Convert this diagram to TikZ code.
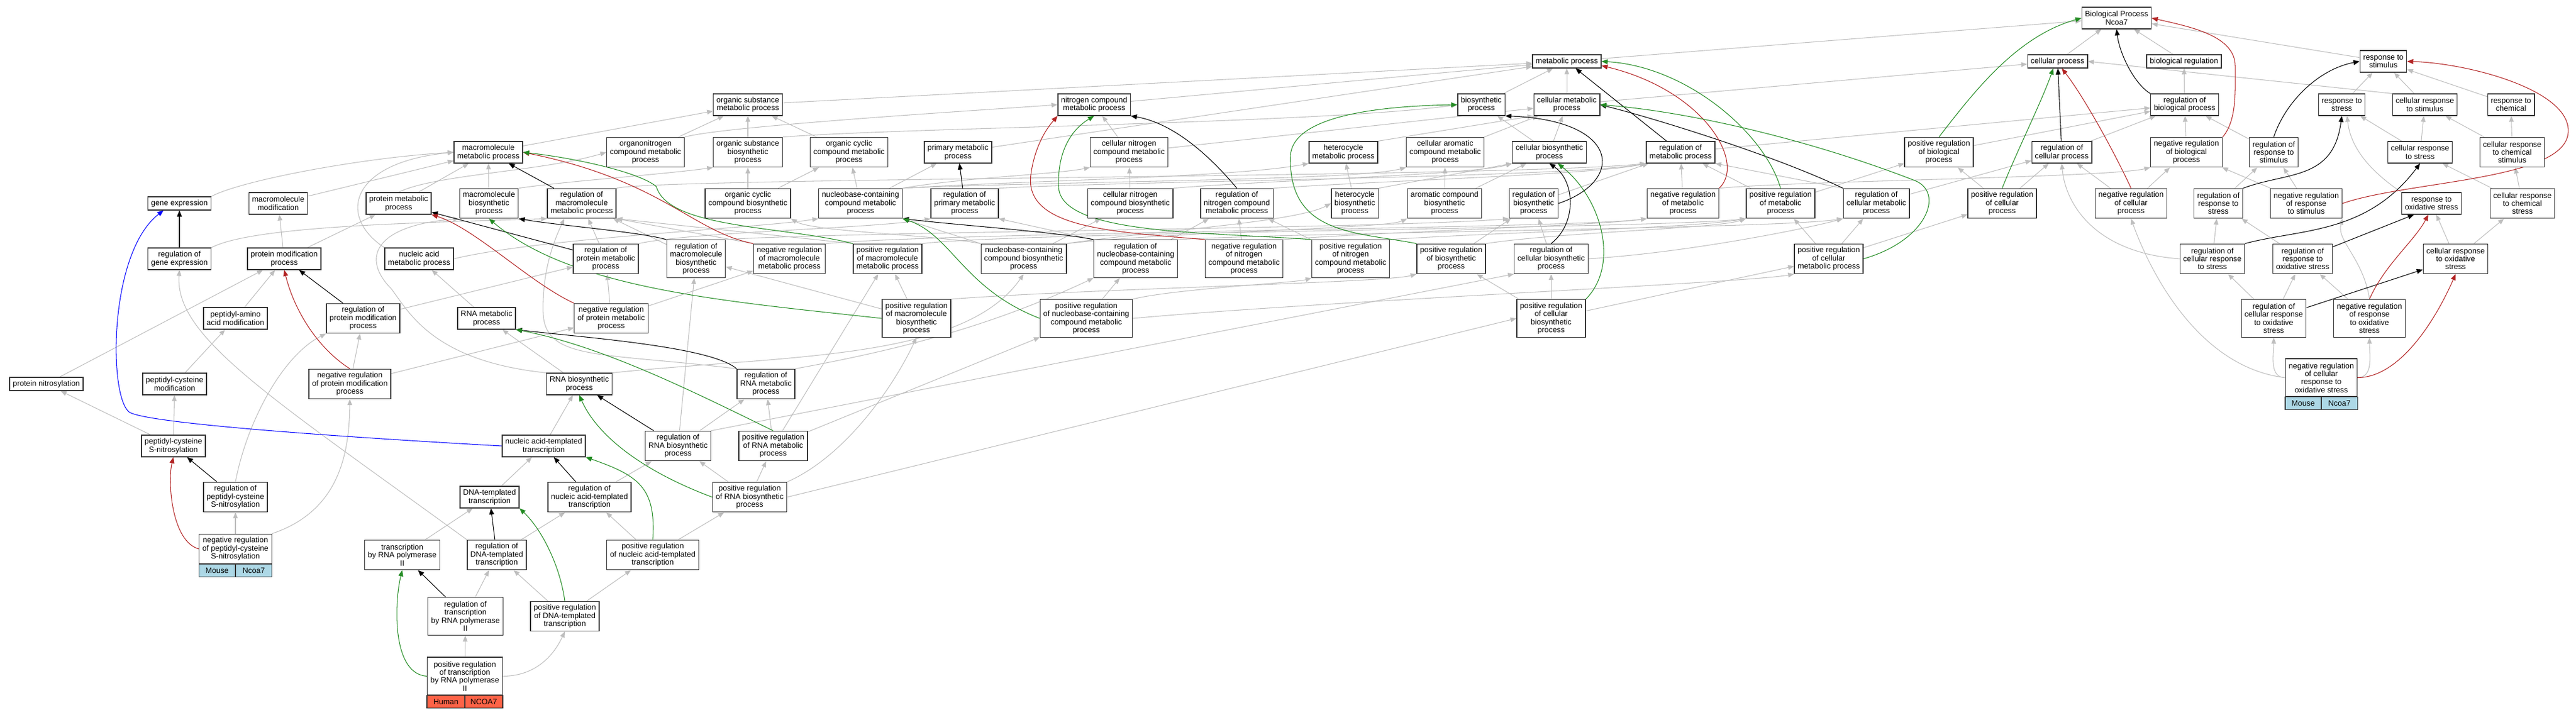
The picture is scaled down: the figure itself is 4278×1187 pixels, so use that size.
\documentclass[tikz,border=0pt]{standalone}
\usepackage{fontspec}
\setmainfont{Liberation Sans}
\usetikzlibrary{arrows.meta,calc}
\definecolor{isagray}{RGB}{190,190,190}
\definecolor{negred}{RGB}{178,34,34}
\definecolor{posgreen}{RGB}{34,139,34}
\definecolor{humanred}{RGB}{255,99,71}
\definecolor{mouseblue}{RGB}{173,216,230}
\pgfdeclarelayer{edges}
\pgfsetlayers{edges,main}
\tikzset{
  term/.style={draw=black!80, line width=0.75pt, fill=white, align=center,
    font=\fontsize{7.3}{7.6}\selectfont, inner xsep=3pt, inner ysep=0pt},
  oneline/.style={term, minimum height=12.5pt},
  twoline/.style={term, minimum height=20.4pt},
  threeline/.style={term, minimum height=28.1pt},
  fourline/.style={term, minimum height=35.7pt},
  cell/.style={draw=black!80, line width=0.75pt, font=\fontsize{7.3}{7.6}\selectfont,
    minimum height=11.9pt, inner sep=0pt, outer sep=0pt},
  isa/.style={draw=isagray, line width=0.6pt, -{Triangle[length=5.6pt,width=4.4pt]}},
  reg/.style={draw=black, line width=0.6pt, -{Triangle[length=5.8pt,width=4.6pt]}},
  negreg/.style={reg, draw=negred},
  posreg/.style={reg, draw=posgreen},
  partof/.style={reg, draw=blue}
}
\begin{document}
\begin{tikzpicture}[x=0.02cm, y=-0.02cm]
  \useasboundingbox (0,0) rectangle (4278,1187);

  % top rows
  \node[twoline] (bp) at (3515,30) {Biological Process\\Ncoa7};
  \node[oneline] (mp) at (2602,102) {metabolic process};
  \node[oneline] (cp) at (3417,102) {cellular process};
  \node[oneline] (breg) at (3627,102) {biological regulation};
  \node[twoline] (rstim) at (3958,102) {response to\\stimulus};

  \node[twoline] (osmp) at (1242,174) {organic substance\\metabolic process};
  \node[twoline] (ncmp) at (1817,174) {nitrogen compound\\metabolic process};
  \node[twoline] (bsp) at (2460,174) {biosynthetic\\process};
  \node[twoline] (cmp) at (2602,174) {cellular metabolic\\process};
  \node[twoline] (rbp) at (3628,174) {regulation of\\biological process};
  \node[twoline] (rstress) at (3889,174) {response to\\stress};
  \node[twoline] (crstim) at (4027,174) {cellular response\\to stimulus};
  \node[twoline] (rchem) at (4170,174) {response to\\chemical};

  \node[twoline] (mmp) at (811,253) {macromolecule\\metabolic process};
  \node[threeline] (oncmp) at (1072,253) {organonitrogen\\compound metabolic\\process};
  \node[threeline] (osbp) at (1242,253) {organic substance\\biosynthetic\\process};
  \node[threeline] (occmp) at (1410,253) {organic cyclic\\compound metabolic\\process};
  \node[twoline] (pmp) at (1591,253) {primary metabolic\\process};
  \node[threeline] (cncmp) at (1875,253) {cellular nitrogen\\compound metabolic\\process};
  \node[twoline] (hmp) at (2231,253) {heterocycle\\metabolic process};
  \node[threeline] (camp) at (2400,253) {cellular aromatic\\compound metabolic\\process};
  \node[twoline] (cbp) at (2573,253) {cellular biosynthetic\\process};
  \node[twoline] (rmp) at (2791,253) {regulation of\\metabolic process};
  \node[threeline] (prbp) at (3220,253) {positive regulation\\of biological\\process};
  \node[twoline] (rcp) at (3424,253) {regulation of\\cellular process};
  \node[threeline] (nrbp) at (3631,253) {negative regulation\\of biological\\process};
  \node[threeline] (rrstim) at (3776,253) {regulation of\\response to\\stimulus};
  \node[twoline] (crstress) at (4019,253) {cellular response\\to stress};
  \node[threeline] (crchem) at (4172,253) {cellular response\\to chemical\\stimulus};

  \node[oneline] (ge) at (298,338) {gene expression};
  \node[twoline] (mmod) at (462,338) {macromolecule\\modification};
  \node[twoline] (prmp) at (662,338) {protein metabolic\\process};
  \node[threeline] (mbp) at (812,338) {macromolecule\\biosynthetic\\process};
  \node[threeline] (rmmp) at (966,338) {regulation of\\macromolecule\\metabolic process};
  \node[threeline] (occbp) at (1242,338) {organic cyclic\\compound biosynthetic\\process};
  \node[threeline] (nbcmp) at (1429,338) {nucleobase-containing\\compound metabolic\\process};
  \node[threeline] (rpmp) at (1602,338) {regulation of\\primary metabolic\\process};
  \node[threeline] (cncbp) at (1877,338) {cellular nitrogen\\compound biosynthetic\\process};
  \node[threeline] (rncmp) at (2054,338) {regulation of\\nitrogen compound\\metabolic process};
  \node[threeline] (hbp) at (2250,338) {heterocycle\\biosynthetic\\process};
  \node[threeline] (acbp) at (2399,338) {aromatic compound\\biosynthetic\\process};
  \node[threeline] (rbsp) at (2547,338) {regulation of\\biosynthetic\\process};
  \node[threeline] (nrmp) at (2795,338) {negative regulation\\of metabolic\\process};
  \node[threeline] (posmp) at (2957,338) {positive regulation\\of metabolic\\process};
  \node[threeline] (rcmp) at (3116,338) {regulation of\\cellular metabolic\\process};
  \node[threeline] (prcp) at (3325,338) {positive regulation\\of cellular\\process};
  \node[threeline] (nrcp) at (3539,338) {negative regulation\\of cellular\\process};
  \node[threeline] (rrstress) at (3684,338) {regulation of\\response to\\stress};
  \node[threeline] (nrrstim) at (3830,338) {negative regulation\\of response\\to stimulus};
  \node[twoline] (rox) at (4038,338) {response to\\oxidative stress};
  \node[threeline] (crcs) at (4189,338) {cellular response\\to chemical\\stress};

  \node[twoline] (rge) at (298,430) {regulation of\\gene expression};
  \node[twoline] (pmod) at (472,430) {protein modification\\process};
  \node[twoline] (namp) at (696,430) {nucleic acid\\metabolic process};
  \node[threeline] (rprmp) at (1006,430) {regulation of\\protein metabolic\\process};
  \node[fourline] (rmbp) at (1156,430) {regulation of\\macromolecule\\biosynthetic\\process};
  \node[threeline] (nrmmp) at (1311,430) {negative regulation\\of macromolecule\\metabolic process};
  \node[threeline] (prmmp) at (1474,430) {positive regulation\\of macromolecule\\metabolic process};
  \node[threeline] (nbcbp) at (1700,430) {nucleobase-containing\\compound biosynthetic\\process};
  \node[fourline] (rnbcmp) at (1886,430) {regulation of\\nucleobase-containing\\compound metabolic\\process};
  \node[fourline] (nrncmp) at (2066,430) {negative regulation\\of nitrogen\\compound metabolic\\process};
  \node[fourline] (prncmp) at (2243,430) {positive regulation\\of nitrogen\\compound metabolic\\process};
  \node[threeline] (prbsp) at (2410,430) {positive regulation\\of biosynthetic\\process};
  \node[threeline] (rcbp) at (2576,430) {regulation of\\cellular biosynthetic\\process};
  \node[threeline] (prcmp) at (3037,430) {positive regulation\\of cellular\\metabolic process};
  \node[threeline] (rcrstress) at (3674,430) {regulation of\\cellular response\\to stress};
  \node[threeline] (rrox) at (3824,430) {regulation of\\response to\\oxidative stress};
  \node[threeline] (crox) at (4078,430) {cellular response\\to oxidative\\stress};

  \node[twoline] (paam) at (391,529) {peptidyl-amino\\acid modification};
  \node[threeline] (rpmod) at (603,529) {regulation of\\protein modification\\process};
  \node[twoline] (rnamp) at (808,529) {RNA metabolic\\process};
  \node[threeline] (nrprmp) at (1015,529) {negative regulation\\of protein metabolic\\process};
  \node[fourline] (prmbp) at (1522,529) {positive regulation\\of macromolecule\\biosynthetic\\process};
  \node[fourline] (prnbcmp) at (1804,529) {positive regulation\\of nucleobase-containing\\compound metabolic\\process};
  \node[fourline] (prcbp) at (2576,529) {positive regulation\\of cellular\\biosynthetic\\process};
  \node[fourline] (rcrox) at (3776,529) {regulation of\\cellular response\\to oxidative\\stress};
  \node[fourline] (nrrox) at (3935,529) {negative regulation\\of response\\to oxidative\\stress};
  \node[fourline] (nrcrox) at (3855,627.5) {negative regulation\\of cellular\\response to\\oxidative stress};
  \path let \p1 = ($(nrcrox.south east)-(nrcrox.south west)$) in
    node[cell, fill=mouseblue, minimum width=0.5*\x1, anchor=north west] (nrcrox-sp) at (nrcrox.south west) {Mouse}
    node[cell, fill=mouseblue, minimum width=0.5*\x1, anchor=north east] (nrcrox-gn) at (nrcrox.south east) {Ncoa7};

  \node[oneline] (pnit) at (77,638) {protein nitrosylation};
  \node[twoline] (pcmod) at (290,638) {peptidyl-cysteine\\modification};
  \node[threeline] (nrpmod) at (581,638) {negative regulation\\of protein modification\\process};
  \node[twoline] (rnabp) at (962,638) {RNA biosynthetic\\process};
  \node[threeline] (rrnamp) at (1272,638) {regulation of\\RNA metabolic\\process};

  \node[twoline] (pcsn) at (288,741) {peptidyl-cysteine\\S-nitrosylation};
  \node[twoline] (natt) at (903,741) {nucleic acid-templated\\transcription};
  \node[threeline] (rrnabp) at (1126,741) {regulation of\\RNA biosynthetic\\process};
  \node[threeline] (prrnamp) at (1284,741) {positive regulation\\of RNA metabolic\\process};

  \node[threeline] (rpcsn) at (391,826) {regulation of\\peptidyl-cysteine\\S-nitrosylation};
  \node[twoline] (dtt) at (813,826) {DNA-templated\\transcription};
  \node[threeline] (rnatt) at (979,826) {regulation of\\nucleic acid-templated\\transcription};
  \node[threeline] (prrnabp) at (1245,826) {positive regulation\\of RNA biosynthetic\\process};

  \node[threeline] (nrpcsn) at (391,912) {negative regulation\\of peptidyl-cysteine\\S-nitrosylation};
  \path let \p1 = ($(nrpcsn.south east)-(nrpcsn.south west)$) in
    node[cell, fill=mouseblue, minimum width=0.5*\x1, anchor=north west] (nrpcsn-sp) at (nrpcsn.south west) {Mouse}
    node[cell, fill=mouseblue, minimum width=0.5*\x1, anchor=north east] (nrpcsn-gn) at (nrpcsn.south east) {Ncoa7};

  \node[threeline] (trp2) at (668,922) {transcription\\by RNA polymerase\\II};
  \node[threeline] (rdtt) at (825,922) {regulation of\\DNA-templated\\transcription};
  \node[threeline] (prnatt) at (1084,922) {positive regulation\\of nucleic acid-templated\\transcription};
  \node[fourline] (rtrp2) at (773,1024) {regulation of\\transcription\\by RNA polymerase\\II};
  \node[threeline] (prdtt) at (938,1024) {positive regulation\\of DNA-templated\\transcription};
  \node[fourline] (prtrp2) at (772,1123.5) {positive regulation\\of transcription\\by RNA polymerase\\II};
  \path let \p1 = ($(prtrp2.south east)-(prtrp2.south west)$) in
    node[cell, fill=humanred, minimum width=0.5*\x1, anchor=north west] (prtrp2-sp) at (prtrp2.south west) {Human}
    node[cell, fill=humanred, minimum width=0.5*\x1, anchor=north east] (prtrp2-gn) at (prtrp2.south east) {NCOA7};

  \begin{pgfonlayer}{edges}
  % is_a
  \draw[isa] (cp) -- (bp);
  \draw[isa] (breg) -- (bp);
  \draw[isa] (mp) -- (bp);
  \draw[isa] (rstim) -- (bp);
  \draw[isa] (rbp) -- (breg);
  \draw[isa] (cmp) -- (mp);
  \draw[isa] (cmp) -- (cp);
  \draw[isa] (osmp) -- (mp);
  \draw[isa] (ncmp) -- (mp);
  \draw[isa] (pmp) -- (mp);
  \draw[isa] (bsp) -- (mp);
  \draw[isa] (crstim.north west) -- (cp.east);
  \draw[isa] (rstress) -- (rstim);
  \draw[isa] (crstim) -- (rstim);
  \draw[isa] (rchem) -- (rstim);

  \draw[isa] (mmp) -- (osmp);
  \draw[isa] (oncmp) -- (osmp);
  \draw[isa] (oncmp.north east) .. controls (1200,210) and (1600,185) .. (ncmp.west);
  \draw[isa] (osbp) -- (osmp);
  \draw[isa] (osbp.north east) .. controls (1500,212) and (2200,205) .. (bsp.west);
  \draw[isa] (occmp) -- (osmp);
  \draw[isa] (cncmp) -- (ncmp);
  \draw[isa] (cncmp) -- (cmp);
  \draw[isa] (hmp.north east) -- (cmp.south west);
  \draw[isa] (camp) -- (cmp);
  \draw[isa] (cbp) -- (cmp);
  \draw[isa] (cbp) -- (bsp);
  \draw[isa] (rmp) -- (rbp);
  \draw[isa] (prbp) -- (rbp);
  \draw[isa] (nrbp) -- (rbp);
  \draw[isa] (rcp) -- (rbp);
  \draw[isa] (rrstim) -- (rbp);
  \draw[isa] (crstress) -- (rstress);
  \draw[isa] (crstress) -- (crstim);
  \draw[isa] (crchem) -- (rchem);
  \draw[isa] (crchem) -- (crstim);

  \draw[isa] (ge.north east) .. controls (400,300) and (600,262) .. (mmp.west);
  \draw[isa] (mmod) -- (mmp);
  \draw[isa] (prmp) -- (mmp);
  \draw[isa] (prmp.north) .. controls (720,290) and (900,285) .. (oncmp.west);
  \draw[isa] (mbp) -- (mmp);
  \draw[isa] (mbp.north east) .. controls (950,300) and (1100,290) .. (osbp.south west);
  \draw[isa] (rmmp.north east) .. controls (1100,295) and (2500,295) .. (rmp.south west);
  \draw[isa] (occbp) -- (occmp);
  \draw[isa] (occbp) -- (osbp);
  \draw[isa] (nbcmp) -- (occmp);
  \draw[isa] (nbcmp) -- (pmp);
  \draw[isa] (nbcmp.north east) .. controls (1600,295) and (1750,290) .. (cncmp.south west);
  \draw[isa] (nbcmp.north east) .. controls (1700,300) and (2050,295) .. (hmp.south west);
  \draw[isa] (nbcmp.north east) .. controls (1800,300) and (2250,300) .. (camp.south west);
  \draw[isa] (rpmp.north east) .. controls (1900,300) and (2600,295) .. (rmp.south west);
  \draw[isa] (cncbp) -- (cncmp);
  \draw[isa] (cncbp.north east) .. controls (2100,300) and (2450,290) .. (cbp.south west);
  \draw[isa] (rncmp.north east) .. controls (2300,300) and (2650,290) .. (rmp.south west);
  \draw[isa] (hbp) -- (hmp);
  \draw[isa] (hbp.north east) -- (cbp.south west);
  \draw[isa] (acbp) -- (camp);
  \draw[isa] (acbp) -- (cbp);
  \draw[isa] (rbsp) -- (rmp);
  \draw[isa] (nrmp) -- (rmp);
  \draw[isa] (nrmp.north east) .. controls (3000,300) and (3500,295) .. (nrbp.south west);
  \draw[isa] (posmp) -- (rmp);
  \draw[isa] (posmp) -- (prbp);
  \draw[isa] (rcmp.north west) -- (rmp.south east);
  \draw[isa] (rcmp) -- (rcp);
  \draw[isa] (prcp) -- (rcp);
  \draw[isa] (prcp) -- (prbp);
  \draw[isa] (nrcp) -- (rcp);
  \draw[isa] (nrcp) -- (nrbp);
  \draw[isa] (rrstress) -- (rrstim);
  \draw[isa] (nrrstim) -- (rrstim);
  \draw[isa] (nrrstim) -- (nrbp);
  \draw[isa] (rox.north west) .. controls (3960,300) and (3905,260) .. ([xshift=5pt]rstress.south);
  \draw[isa] (crcs) -- (crchem);
  \draw[isa] (crcs) -- (crstress);

  \draw[isa] (rge.north east) .. controls (420,375) and (700,370) .. (rmmp.south west);
  \draw[isa] (pmod) -- (prmp);
  \draw[isa] (pmod) -- (mmod);
  \draw[isa] (namp.north west) .. controls (560,360) and (580,270) .. (mmp.west);
  \draw[isa] (namp.east) .. controls (900,395) and (1250,380) .. (nbcmp.south west);
  \draw[isa] (rprmp) -- (rmmp);
  \draw[isa] (rprmp.north east) .. controls (1150,385) and (1450,380) .. (rpmp.south west);
  \draw[isa] (rmbp) -- (rmmp);
  \draw[isa] (rmbp.north east) .. controls (1400,385) and (2300,380) .. (rbsp.south west);
  \draw[isa] (nrmmp.north west) -- (rmmp.south east);
  \draw[isa] (nrmmp.north east) .. controls (1600,385) and (2600,380) .. (nrmp.south west);
  \draw[isa] (prmmp.north west) -- (rmmp.south east);
  \draw[isa] (prmmp.north east) .. controls (1700,385) and (2750,380) .. (posmp.south west);
  \draw[isa] (nbcbp.north west) -- (nbcmp.south east);
  \draw[isa] (nbcbp) -- (cncbp);
  \draw[isa] (nbcbp.north west) .. controls (1550,390) and (1350,385) .. (occbp.south east);
  \draw[isa] (nbcbp.north east) .. controls (1900,385) and (2150,370) .. (hbp.west);
  \draw[isa] (nbcbp.north east) .. controls (1950,385) and (2300,380) .. (acbp.south west);
  \draw[isa] (rnbcmp) -- (rncmp);
  \draw[isa] (rnbcmp.north west) -- (rpmp.south east);
  \draw[isa] (rnbcmp.north east) .. controls (2200,385) and (2950,380) .. (rcmp.south west);
  \draw[isa] (nrncmp) -- (rncmp);
  \draw[isa] (nrncmp.north east) .. controls (2300,385) and (2650,375) .. (nrmp.south west);
  \draw[isa] (prncmp) -- (rncmp);
  \draw[isa] (prncmp.north east) .. controls (2500,385) and (2800,380) .. (posmp.south west);
  \draw[isa] (prbsp) -- (rbsp);
  \draw[isa] (prbsp.north east) .. controls (2600,385) and (2850,380) .. (posmp.south west);
  \draw[isa] (rcbp) -- (rbsp);
  \draw[isa] (rcbp.east) .. controls (2800,420) and (3000,380) .. (rcmp.south west);
  \draw[isa] (prcmp) -- (rcmp);
  \draw[isa] (prcmp) -- (posmp);
  \draw[isa] (prcmp) -- (prcp);
  \draw[isa] (rcrstress) -- (rrstress);
  \draw[isa] (rcrstress.west) .. controls (3480,420) and (3430,340) .. (rcp.south);
  \draw[isa] (rrox) -- (rrstress);
  \draw[isa] (crox) -- (rox);
  \draw[isa] (crox) -- (crcs);

  \draw[isa] (paam) -- (pmod);
  \draw[isa] (rpmod) -- (rprmp);
  \draw[isa] (rnamp) -- (namp);
  \draw[isa] (nrprmp) -- (rprmp);
  \draw[isa] (nrprmp) -- (nrmmp);
  \draw[isa] (prmbp) -- (rmbp);
  \draw[isa] (prmbp) -- (prmmp);
  \draw[isa] (prmbp.north east) .. controls (1800,480) and (2300,470) .. (prbsp.south west);
  \draw[isa] (prnbcmp) -- (rnbcmp);
  \draw[isa] (prnbcmp.north east) .. controls (1950,480) and (2150,470) .. (prncmp.south west);
  \draw[isa] (prnbcmp.east) .. controls (2200,500) and (2900,470) .. (prcmp.south west);
  \draw[isa] (prcbp) -- (rcbp);
  \draw[isa] (prcbp) -- (prcmp);
  \draw[isa] (prcbp) -- (prbsp);
  \draw[isa] (rcrox) -- (rcrstress);
  \draw[isa] (rcrox) -- (rrox);
  \draw[isa] (nrrox) -- (rrox);
  \draw[isa] (nrrox.north) .. controls (3925,430) and (3880,400) .. (nrrstim.south east);
  \draw[isa] (nrcrox.west) to[out=180,in=-90] (rcrox.south);
  \draw[isa] (nrcrox.east) to[out=0,in=-90] (nrrox.south);
  \draw[isa] (nrcrox.west) .. controls (3650,610) and (3570,450) .. (nrcp.south);

  \draw[isa] (pnit) -- (pmod);
  \draw[isa] (pcmod) -- (paam);
  \draw[isa] (nrpmod) -- (rpmod);
  \draw[isa] (nrpmod) -- (nrprmp);
  \draw[isa] (rnabp) -- (rnamp);
  \draw[isa] (rnabp.north west) .. controls (720,600) and (680,520) .. (650,480) .. controls (600,430) and (620,375) .. (mbp.south west);
  \draw[isa] (rnabp.north east) .. controls (1300,590) and (1600,600) .. (nbcbp.south);
  \draw[isa] (rrnamp.north east) .. controls (1500,580) and (1650,540) .. (rnbcmp.south west);
  \draw[isa] (rrnamp.north west) .. controls (1000,585) and (905,600) .. (902,520) .. controls (900,450) and (920,400) .. ($(rmmp.south west)!0.5!(rmmp.south)$);

  \draw[isa] (pcsn) -- (pcmod);
  \draw[isa] (pcsn) -- (pnit);
  \draw[isa] (natt) -- (rnabp);
  \draw[isa] (rrnabp) -- (rrnamp);
  \draw[isa] (rrnabp) -- (rmbp);
  \draw[isa] (rrnabp.north east) -- (rcbp.south west);
  \draw[isa] (prrnamp) -- (rrnamp);
  \draw[isa] (prrnamp) -- (prmmp);
  \draw[isa] (prrnamp) -- (prnbcmp);

  \draw[isa] (rpcsn.north) .. controls (410,700) and (470,590) .. (rpmod.south west);
  \draw[isa] (dtt) -- (natt);
  \draw[isa] (rnatt) -- (rrnabp);
  \draw[isa] (prrnabp) -- (rrnabp);
  \draw[isa] (prrnabp) -- (prrnamp);
  \draw[isa] (prrnabp.north east) .. controls (1400,760) and (1480,650) .. (prmbp.south);
  \draw[isa] (prrnabp.east) -- (prcbp.west);
  \draw[isa] (nrpcsn) -- (rpcsn);
  \draw[isa] (nrpcsn.north east) .. controls (560,850) and (580,760) .. (nrpmod.south);

  \draw[isa] (trp2) -- (dtt);
  \draw[isa] (rdtt) -- (rnatt);
  \draw[isa] (rdtt.north west) .. controls (450,660) and (290,560) .. (rge.south);
  \draw[isa] (prnatt) -- (rnatt);
  \draw[isa] (prnatt) -- (prrnabp);
  \draw[isa] (rtrp2) -- (rdtt);
  \draw[isa] (prdtt) -- (rdtt);
  \draw[isa] (prdtt) -- (prnatt);
  \draw[isa] (prtrp2) -- (rtrp2);
  \draw[isa] (prtrp2.east) to[out=0,in=-115] (prdtt.south);

  % regulates
  \draw[reg] (rge) -- (ge);
  \draw[reg] (rpmod) -- (pmod);
  \draw[reg] (rpcsn) -- (pcsn);
  \draw[reg] (rprmp) -- (prmp);
  \draw[reg] (rmmp) -- (mmp);
  \draw[reg] (rmbp.north west) .. controls (1060,385) and (930,375) .. (mbp.south east);
  \draw[reg] (rpmp) -- (pmp);
  \draw[reg] (rncmp.north) .. controls (2010,260) and (1950,205) .. (ncmp.south east);
  \draw[reg] (rnbcmp.north west) .. controls (1750,385) and (1600,375) .. (nbcmp.south east);
  \draw[reg] (rrnamp.north west) .. controls (1180,575) and (960,560) .. (rnamp.south east);
  \draw[reg] (rrnabp) -- (rnabp);
  \draw[reg] (rnatt) -- (natt);
  \draw[reg] (rdtt) -- (dtt);
  \draw[reg] (rtrp2) -- (trp2);
  \draw[reg] (rbsp.east) .. controls (2700,300) and (2690,200) .. (bsp.south east);
  \draw[reg] (rcbp.north) .. controls (2620,370) and (2615,300) .. (cbp.south);
  \draw[reg] (rmp) -- (mp);
  \draw[reg] (rcmp.north west) .. controls (2950,260) and (2760,200) .. (cmp.east);
  \draw[reg] (rbp.north west) .. controls (3545,140) and (3520,90) .. (bp.south);
  \draw[reg] (rcp) -- (cp);
  \draw[reg] (rrstim.north) .. controls (3795,170) and (3850,115) .. (rstim.west);
  \draw[reg] (rrstress.north east) .. controls (3800,285) and (3875,300) .. (rstress.south);
  \draw[reg] (rcrstress.north east) .. controls (3820,380) and (3930,390) .. (crstress.south);
  \draw[reg] (rrox) -- ([xshift=12pt]rox.south west);
  \draw[reg] (rcrox) -- (crox);

  % negatively regulates
  \draw[negreg] (nrpmod.north) .. controls (530,580) and (490,520) .. (pmod.south);
  \draw[negreg] (nrpcsn.west) .. controls (285,900) and (278,800) .. (pcsn.south);
  \draw[negreg] (nrprmp.north west) .. controls (880,470) and (790,380) .. (prmp.south east);
  \draw[negreg] (nrmmp.north west) .. controls (1150,385) and (1100,300) .. (mmp.east);
  \draw[negreg] (nrncmp.north west) .. controls (1850,385) and (1700,380) .. (1712,290) .. controls (1720,230) and (1750,200) .. (ncmp.south west);
  \draw[negreg] (nrmp.north east) .. controls (2900,270) and (2830,150) .. ([yshift=-4pt]mp.east);
  \draw[negreg] (nrcp.north) .. controls (3510,250) and (3460,160) .. ([xshift=4pt]cp.south);
  \draw[negreg] (nrbp.north east) .. controls (3715,200) and (3712,150) .. (3712,110) .. controls (3712,60) and (3640,45) .. (bp.east);
  \draw[negreg] (nrrstim.east) .. controls (4000,300) and (4260,300) .. (4265,220) .. controls (4270,150) and (4100,105) .. (rstim.east);
  \draw[negreg] (nrrox.north) .. controls (3960,440) and (4010,400) .. ([xshift=-3pt]rox.south);
  \draw[negreg] (nrcrox.east) .. controls (3990,627) and (4050,520) .. (crox.south);

  % positively regulates
  \draw[posreg] (prtrp2.west) .. controls (650,1120) and (655,1000) .. (trp2.south);
  \draw[posreg] (prdtt.north) .. controls (930,940) and (900,880) .. (dtt.south east);
  \draw[posreg] (prnatt.north) .. controls (1090,810) and (1060,790) .. (natt.south east);
  \draw[posreg] (prrnabp.west) .. controls (1060,780) and (990,720) .. (rnabp.south);
  \draw[posreg] (prrnamp.north) .. controls (1150,650) and (1000,575) .. (rnamp.south east);
  \draw[posreg] (prmbp.west) .. controls (1200,500) and (950,480) .. (mbp.south);
  \draw[posreg] (prmmp.north west) .. controls (1300,375) and (1110,380) .. (1090,310) .. controls (1060,285) and (950,262) .. (mmp.east);
  \draw[posreg] (prnbcmp.west) .. controls (1600,480) and (1580,390) .. (nbcmp.south east);
  \draw[posreg] (prncmp.north west) .. controls (2000,385) and (1760,390) .. (1758,310) .. controls (1756,250) and (1780,215) .. (ncmp.south);
  \draw[posreg] (prbsp.north west) .. controls (2250,385) and (2140,390) .. (2143,260) .. controls (2145,190) and (2300,176) .. (bsp.west);
  \draw[posreg] (prcbp.north east) .. controls (2690,440) and (2660,330) .. ([xshift=8pt]cbp.south);
  \draw[posreg] (posmp.north) .. controls (2930,220) and (2800,110) .. (mp.east);
  \draw[posreg] (prcmp.east) .. controls (3200,400) and (3230,320) .. (3180,300) .. controls (3000,230) and (2800,185) .. (cmp.east);
  \draw[posreg] (prbp.north) .. controls (3280,150) and (3350,60) .. (bp.west);
  \draw[posreg] (prcp.north) .. controls (3350,250) and (3390,170) .. ([xshift=-4pt]cp.south);

  % part of
  \draw[partof] (natt.west) .. controls (600,728) and (250,705) .. (215,685) .. controls (180,660) and (180,420) .. ($(ge.south west)!0.5!(ge.south)$);
  \end{pgfonlayer}
\end{tikzpicture}
\end{document}
